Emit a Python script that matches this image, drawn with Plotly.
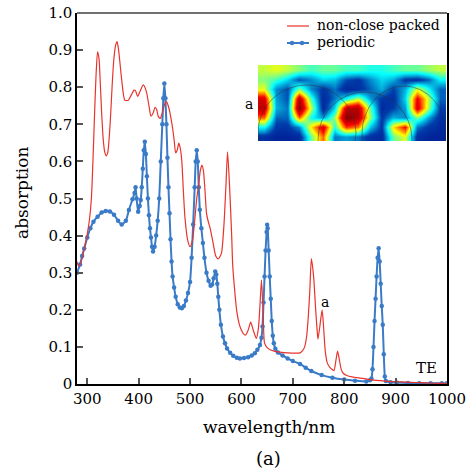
import plotly.graph_objects as go

# ---------------- data ----------------
wl_ncp = [280, 283, 286, 290, 295, 300, 304, 308, 311, 314, 317, 320, 323, 325, 328, 331, 334, 337, 340, 343,
          346, 349, 352, 355, 358, 361, 364, 367, 373, 380, 386, 391, 394, 398, 403, 409, 415, 420, 424, 428,
          432, 435, 438, 442, 446, 450, 454, 458, 461, 466, 469, 472, 475, 478, 481, 484, 487, 490, 495, 500,
          505, 509, 513, 516, 520, 523, 526, 529, 532, 535, 539, 545, 550, 555, 561, 566, 570, 573, 577, 581,
          583, 587, 591, 596, 600, 604, 608, 613, 618, 623, 629, 633, 636, 639, 642, 645, 650, 655, 665, 675,
          690, 705, 714, 719, 723, 727, 730, 733, 736, 739, 741, 744, 747, 749, 753, 757, 760, 763, 767, 772,
          776, 780, 784, 787, 790, 794, 798, 805, 815, 825, 836, 850, 870, 885, 902, 920, 940, 960, 980, 1000]
abs_ncp = [0.33, 0.318, 0.322, 0.34, 0.37, 0.405, 0.44, 0.50, 0.60, 0.72, 0.83, 0.895, 0.875, 0.82, 0.73, 0.66, 0.625, 0.615, 0.625, 0.67,
           0.74, 0.82, 0.88, 0.912, 0.923, 0.90, 0.86, 0.82, 0.765, 0.765, 0.78, 0.792, 0.79, 0.775, 0.79, 0.806, 0.788, 0.75, 0.722, 0.73,
           0.746, 0.74, 0.722, 0.716, 0.73, 0.752, 0.761, 0.748, 0.73, 0.69, 0.658, 0.623, 0.63, 0.649, 0.635, 0.60, 0.52, 0.45, 0.39, 0.37,
           0.39, 0.44, 0.50, 0.53, 0.575, 0.59, 0.575, 0.523, 0.46, 0.44, 0.42, 0.379, 0.345, 0.337, 0.352, 0.43, 0.54, 0.626, 0.53, 0.40,
           0.32, 0.25, 0.195, 0.16, 0.145, 0.135, 0.132, 0.145, 0.167, 0.145, 0.123, 0.15, 0.21, 0.28, 0.20, 0.11, 0.098, 0.093, 0.088, 0.086,
           0.084, 0.083, 0.084, 0.09, 0.10, 0.13, 0.18, 0.25, 0.338, 0.31, 0.28, 0.21, 0.15, 0.121, 0.16, 0.20, 0.15, 0.09, 0.057, 0.045,
           0.04, 0.036, 0.065, 0.089, 0.07, 0.04, 0.029, 0.023, 0.019, 0.017, 0.015, 0.012, 0.009, 0.007, 0.006, 0.005, 0.004, 0.003, 0.002, 0.002]

wl_per = [280, 286, 290, 294, 300, 306, 312, 320, 328, 336, 344, 352, 360, 367, 375, 381, 388, 392, 394, 396,
          399, 402, 404, 406, 408, 410, 412, 414, 416, 418, 420, 422, 424, 426, 428, 431, 434, 437, 440, 443,
          446, 448, 450, 452, 454, 456, 458, 460, 462, 464, 466, 469, 472, 476, 480, 484, 488, 492, 496, 500,
          503, 506, 509, 511, 513, 515, 517, 519, 522, 525, 528, 532, 536, 540, 543, 546, 549, 551, 553, 555,
          557, 560, 564, 568, 572, 578, 584, 591, 597, 605, 613, 620, 626, 631, 636, 639, 641, 643, 645, 647,
          649, 650, 651, 653, 655, 657, 659, 661, 663, 666, 671, 680, 690, 700, 714, 725, 736, 756, 777, 800,
          821, 843, 850, 853, 855, 857, 859, 861, 863, 865, 867, 869, 871, 873, 875, 877, 879, 881, 890, 902,
          924, 946, 968, 990, 1000]
abs_per = [0.30, 0.322, 0.345, 0.365, 0.395, 0.42, 0.437, 0.451, 0.462, 0.466, 0.465, 0.456, 0.44, 0.43, 0.44, 0.469, 0.498, 0.515, 0.53, 0.50,
           0.464, 0.48, 0.496, 0.53, 0.58, 0.63, 0.653, 0.62, 0.56, 0.50, 0.455, 0.42, 0.395, 0.37, 0.357, 0.37, 0.40, 0.44, 0.50, 0.60,
           0.70, 0.77, 0.81, 0.77, 0.70, 0.61, 0.53, 0.46, 0.39, 0.33, 0.29, 0.26, 0.235, 0.215, 0.206, 0.204, 0.21, 0.225, 0.245, 0.275,
           0.34, 0.43, 0.53, 0.60, 0.63, 0.60, 0.53, 0.47, 0.42, 0.38, 0.34, 0.30, 0.278, 0.265, 0.268, 0.285, 0.303, 0.295, 0.27, 0.235,
           0.20, 0.16, 0.128, 0.11, 0.096, 0.084, 0.076, 0.071, 0.069, 0.07, 0.072, 0.077, 0.083, 0.092, 0.105, 0.125, 0.155, 0.22, 0.29, 0.36,
           0.41, 0.429, 0.42, 0.36, 0.29, 0.23, 0.17, 0.13, 0.11, 0.095, 0.085, 0.077, 0.069, 0.062, 0.054, 0.044, 0.035, 0.024, 0.017, 0.012,
           0.009, 0.007, 0.01, 0.015, 0.04, 0.10, 0.17, 0.23, 0.29, 0.34, 0.366, 0.33, 0.27, 0.21, 0.16, 0.08, 0.02, 0.008, 0.005, 0.004,
           0.003, 0.002, 0.002, 0.002, 0.002]

x_ticks = [300, 400, 500, 600, 700, 800, 900, 1000]
y_ticks = [0, 0.1, 0.2, 0.3, 0.4, 0.5, 0.6, 0.7, 0.8, 0.9, 1.0]
y_tick_text = ["0", "0.1", "0.2", "0.3", "0.4", "0.5", "0.6", "0.7", "0.8", "0.9", "1.0"]

series_names = ["non-close packed", "periodic"]

# inset field map (rows top -> bottom), normalised intensity
field_rows = [
    [0.55, 0.58, 0.55, 0.50, 0.45, 0.48, 0.48, 0.45, 0.45, 0.42, 0.42, 0.45, 0.48, 0.48, 0.52, 0.55],
    [0.50, 0.45, 0.36, 0.22, 0.28, 0.36, 0.34, 0.22, 0.18, 0.28, 0.36, 0.32, 0.18, 0.16, 0.24, 0.40],
    [0.58, 0.28, 0.22, 0.50, 0.28, 0.18, 0.26, 0.14, 0.16, 0.24, 0.32, 0.20, 0.32, 0.58, 0.40, 0.24],
    [0.86, 0.30, 0.22, 0.92, 0.45, 0.14, 0.26, 0.40, 0.55, 0.30, 0.18, 0.16, 0.36, 0.82, 0.55, 0.24],
    [0.90, 0.32, 0.26, 1.00, 0.55, 0.14, 0.36, 0.88, 0.92, 0.48, 0.14, 0.20, 0.30, 0.86, 0.52, 0.20],
    [0.72, 0.24, 0.24, 0.72, 0.40, 0.30, 0.52, 1.00, 0.92, 0.52, 0.18, 0.32, 0.28, 0.50, 0.30, 0.16],
    [0.40, 0.18, 0.18, 0.28, 0.62, 0.86, 0.42, 0.76, 0.70, 0.34, 0.18, 0.62, 0.80, 0.26, 0.18, 0.14],
    [0.16, 0.12, 0.12, 0.14, 0.48, 0.72, 0.26, 0.30, 0.26, 0.16, 0.14, 0.48, 0.58, 0.16, 0.12, 0.12],
]

# ---------------- figure ----------------
RED = "#e8332d"
BLUE = "#3a7bc8"
FONT = "DejaVu Serif"

fig = go.Figure()

fig.add_trace(go.Scatter(
    x=wl_per, y=abs_per, name=series_names[1], mode="lines+markers",
    line=dict(color=BLUE, width=2, shape="spline", smoothing=0.6),
    marker=dict(color=BLUE, size=4.5, symbol="circle"),
    showlegend=False))

fig.add_trace(go.Scatter(
    x=wl_ncp, y=abs_ncp, name=series_names[0], mode="lines",
    line=dict(color=RED, width=1.2, shape="spline", smoothing=0.6),
    showlegend=False))

fig.add_trace(go.Heatmap(
    z=field_rows[::-1], colorscale="Jet", zmin=0, zmax=1, zsmooth="best",
    showscale=False, xaxis="x2", yaxis="y2", hoverinfo="skip"))

W, H = 468, 471
# plot-area edges in picture pixels
XL, XR, YT, YB = 77, 447, 13, 384
pw, ph = XR - XL, YB - YT


def px(xp):
    return (xp - XL) / pw


def py(yp):
    return (YB - yp) / ph


axis_font = dict(family=FONT, size=15, color="black")

fig.update_layout(
    template="none",
    width=W, height=H,
    margin=dict(l=XL, r=W - XR, t=YT, b=H - YB, autoexpand=False),
    paper_bgcolor="white", plot_bgcolor="white",
    font=dict(family=FONT, color="black"),
    xaxis=dict(range=[280, 1000], tickvals=x_ticks, ticks="inside", ticklen=6,
               tickwidth=1.5, tickcolor="#555", showgrid=False, zeroline=False,
               showline=True, linecolor="black", linewidth=1.5, tickfont=axis_font,
               automargin=False, ticklabeloverflow="allow"),
    yaxis=dict(range=[0, 1], tickvals=y_ticks, ticktext=y_tick_text, ticks="inside",
               ticklen=6, tickwidth=1.5, tickcolor="#555", showgrid=False, zeroline=False,
               showline=True, linecolor="black", linewidth=1.5, mirror=True,
               tickfont=axis_font, automargin=False, ticklabeloverflow="allow"),
    xaxis2=dict(domain=[px(258), px(446)], range=[-0.5, 15.5], anchor="y2",
                visible=False, fixedrange=True, automargin=False),
    yaxis2=dict(domain=[py(141), py(65)], range=[-0.5, 7.5], anchor="x2",
                visible=False, fixedrange=True, automargin=False),
)

shapes = []
shapes.append(dict(type="line", xref="paper", yref="paper", x0=0, x1=1, y0=1, y1=1,
                   line=dict(color="#707070", width=2)))
ux = 188 / 16.0
uy = 76 / 8.0


def ix(xp):
    return (xp - 258) / ux - 0.5


def iy(yp):
    return (141 - yp) / uy - 0.5


for (xa, xb, yt) in [(258, 356, 85), (318, 412, 92), (362, 446, 86)]:
    shapes.append(dict(type="circle", xref="x2", yref="y2",
                       x0=ix(xa), x1=ix(xb), y0=iy(yt + 95), y1=iy(yt),
                       line=dict(color="rgba(50,50,50,0.5)", width=1)))
shapes.append(dict(type="line", xref="paper", yref="paper", x0=px(287), x1=px(309),
                   y0=py(26), y1=py(26), line=dict(color=RED, width=1.2)))
shapes.append(dict(type="line", xref="paper", yref="paper", x0=px(287), x1=px(309),
                   y0=py(43), y1=py(43), line=dict(color=BLUE, width=2)))
for cx in (292, 302):
    shapes.append(dict(type="circle", xref="paper", yref="paper",
                       x0=px(cx - 2.2), x1=px(cx + 2.2), y0=py(43 + 2.2), y1=py(43 - 2.2),
                       fillcolor=BLUE, line=dict(color=BLUE, width=0)))
fig.update_layout(shapes=shapes)

ann = []
ann.append(dict(text=series_names[0], xref="paper", yref="paper", x=px(315), y=py(25),
                xanchor="left", yanchor="middle", showarrow=False,
                font=dict(family=FONT, size=14, color="black")))
ann.append(dict(text=series_names[1], xref="paper", yref="paper", x=px(315), y=py(42),
                xanchor="left", yanchor="middle", showarrow=False,
                font=dict(family=FONT, size=14, color="black")))
ann.append(dict(text="a", xref="paper", yref="paper", x=px(249), y=py(104),
                xanchor="center", yanchor="middle", showarrow=False,
                font=dict(family=FONT, size=14, color="black")))
ann.append(dict(text="a", x=762, y=0.22, xanchor="center", yanchor="middle",
                showarrow=False, font=dict(family=FONT, size=14, color="black")))
ann.append(dict(text="TE", x=960, y=0.042, xanchor="center", yanchor="middle",
                showarrow=False, font=dict(family=FONT, size=15, color="black")))
ann.append(dict(text="wavelength/nm", xref="paper", yref="paper", x=px(268.5), y=py(427),
                xanchor="center", yanchor="middle", showarrow=False,
                font=dict(family=FONT, size=17, color="black")))
ann.append(dict(text="(a)", xref="paper", yref="paper", x=px(268), y=py(458),
                xanchor="center", yanchor="middle", showarrow=False,
                font=dict(family=FONT, size=18, color="black")))
ann.append(dict(text="absorption", xref="paper", yref="paper", x=px(22), y=py(193),
                xanchor="center", yanchor="middle", showarrow=False, textangle=-90,
                font=dict(family=FONT, size=17, color="black")))
fig.update_layout(annotations=ann)

# remove the default page margin so the 468x471 figure fills the window exactly
fig.write_html("out.html",
               config={"displayModeBar": False},
               post_script="document.body.style.margin='0';document.body.style.overflow='hidden';")
